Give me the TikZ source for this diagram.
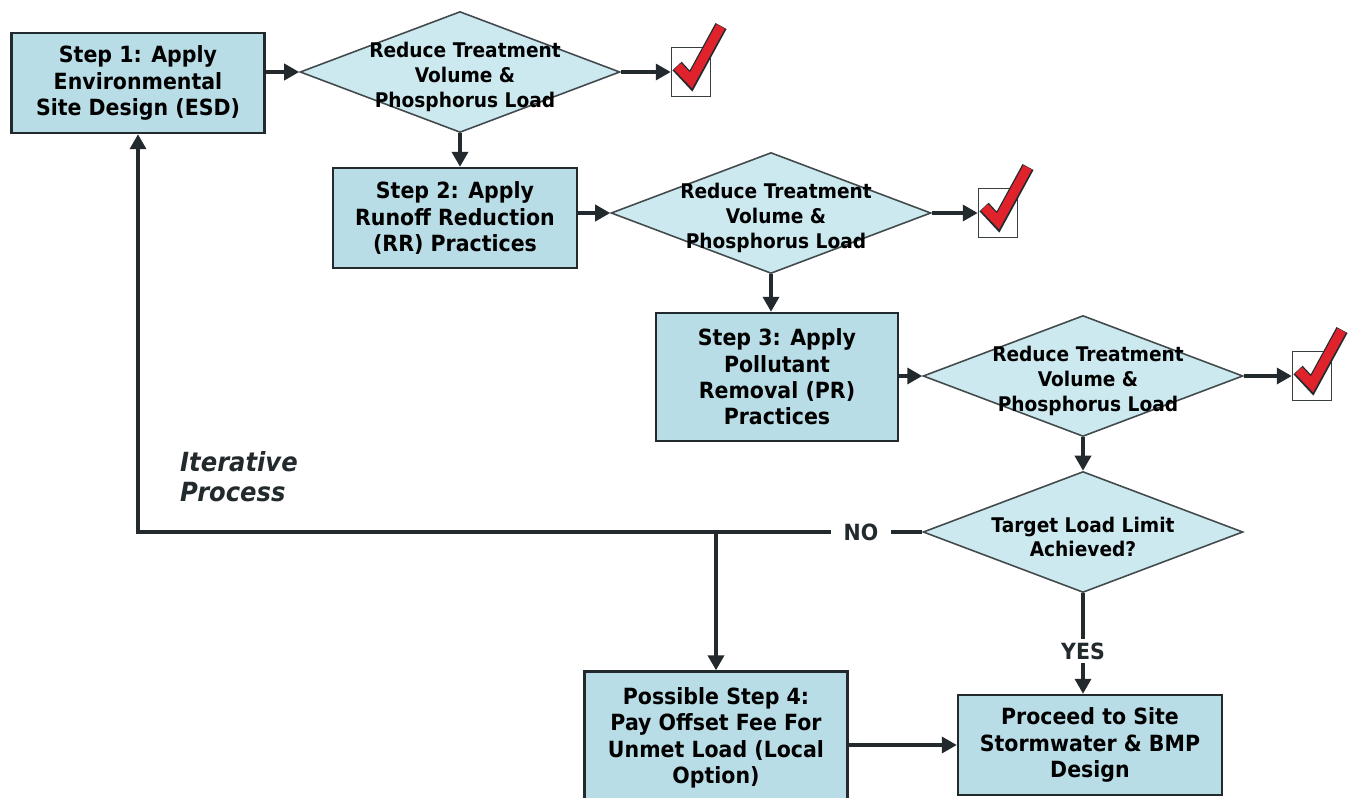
\documentclass[tikz,border=0pt]{standalone}
\usepackage{fontspec}
\setmainfont{DejaVu Sans}[FakeStretch=0.92]
\usepackage{tikz}
\usetikzlibrary{arrows.meta,positioning,shapes.geometric}
\definecolor{esdInk}{HTML}{222A2E}
\definecolor{esdBox}{HTML}{B9DDE6}
\definecolor{esdDia}{HTML}{CDE9F0}
\definecolor{esdTick}{HTML}{E0222C}

% red tick drawn over a tick box
\newcommand{\redtick}[1]{%
  \draw[shift={(#1)}, line width=2.5mm, draw=esdInk, line join=miter] (-14,-6) -- (0,9) -- (30,-46);
  \draw[shift={(#1)}, line width=1.9mm, draw=esdTick, line join=miter] (-13.5,-5.6) -- (0,8.3) -- (29.6,-45.6);
}

\begin{document}
\begin{tikzpicture}[x=0.02cm, y=-0.02cm,
  stepbox/.style={draw=esdInk, line width=1.4pt, fill=esdBox, align=center, inner sep=2pt,
    font=\bfseries\fontsize{12.7}{15}\selectfont},
  decide/.style={diamond, draw=esdInk!85, line width=0.9pt, fill=esdDia, inner sep=0pt,
    minimum width=6.4cm, minimum height=2.42cm},
  dtext/.style={align=center, yshift=-0.1cm, font=\bfseries\fontsize{11.5}{14}\selectfont},
  tickbox/.style={draw=esdInk!90, line width=0.9pt, fill=white, minimum width=0.78cm, minimum height=0.98cm, inner sep=0pt},
  answer/.style={font=\bfseries\fontsize{12.7}{15}\selectfont, text=esdInk},
  arrow/.style={-{Triangle[length=3mm,width=3.2mm]}, line width=2pt, draw=esdInk},
  line/.style={line width=2pt, draw=esdInk}
]
  \useasboundingbox (0,0) rectangle (1353,798);

  \node[stepbox, minimum width=5.06cm, minimum height=2cm] (step1) at (138,83) {Step 1: Apply\\Environmental\\Site Design (ESD)};
  \node[decide] (red1) at (460,72) {};
  \node[dtext, xshift=0.1cm] (red1txt) at (red1) {Reduce Treatment\\Volume \&\\Phosphorus Load};
  \node[tickbox, right=1cm of red1] (ok1) {};

  \node[stepbox, minimum width=4.88cm, minimum height=2cm] (step2) at (455,218) {Step 2: Apply\\Runoff Reduction\\(RR) Practices};
  \node[decide] (red2) at (771,213) {};
  \node[dtext, xshift=0.1cm] (red2txt) at (red2) {Reduce Treatment\\Volume \&\\Phosphorus Load};
  \node[tickbox, right=0.92cm of red2] (ok2) {};

  \node[stepbox, minimum width=4.84cm, minimum height=2.56cm] (step3) at (777,377) {Step 3: Apply\\Pollutant\\Removal (PR)\\Practices};
  \node[decide] (red3) at (1083,376) {};
  \node[dtext, xshift=0.1cm] (red3txt) at (red3) {Reduce Treatment\\Volume \&\\Phosphorus Load};
  \node[tickbox, right=0.96cm of red3] (ok3) {};

  \node[decide] (target) at (1083,532) {};
  \node[dtext] (targettxt) at (target) {Target Load Limit\\Achieved?};

  \node[stepbox, minimum width=5.26cm, minimum height=2.66cm] (step4) at (716,738) {Possible Step 4:\\Pay Offset Fee For\\Unmet Load (Local\\Option)};
  \node[stepbox, minimum width=5.28cm, minimum height=2cm] (site) at (1090,745) {Proceed to Site\\Stormwater \& BMP\\Design};

  \node[answer, inner xsep=0.24cm] (no) at (861,532) {NO};
  \node[answer, inner sep=2pt] (yes) at (1083,651) {YES};
  \node[anchor=north west, align=left, text=esdInk, font=\bfseries\itshape\fontsize{15}{17.5}\selectfont] (iter) at (174,445) {Iterative\\Process};

  \redtick{ok1}
  \redtick{ok2}
  \redtick{ok3}

  \draw[arrow] (step1.east |- red1.west) -- (red1.west);
  \draw[arrow] (red1.east) -- (ok1.west);
  \draw[arrow] (red1.south) -- (red1.south |- step2.north);
  \draw[arrow] (step2.east |- red2.west) -- (red2.west);
  \draw[arrow] (red2.east) -- (ok2.west);
  \draw[arrow] (red2.south) -- (red2.south |- step3.north);
  \draw[arrow] (step3.east |- red3.west) -- (red3.west);
  \draw[arrow] (red3.east) -- (ok3.west);
  \draw[arrow] (red3.south) -- (target.north);

  \draw[line] (target.west) -- (no.east);
  \draw[arrow] (no.west) -- (step1.south |- no.west) -- (step1.south);
  \draw[arrow] (step4.north |- no.west) -- (step4.north);
  \draw[line] (target.south) -- (yes.north);
  \draw[arrow] (yes.south) -- (site.north -| yes.south);
  \draw[arrow] (step4.east |- site.west) -- (site.west);
\end{tikzpicture}
\end{document}
